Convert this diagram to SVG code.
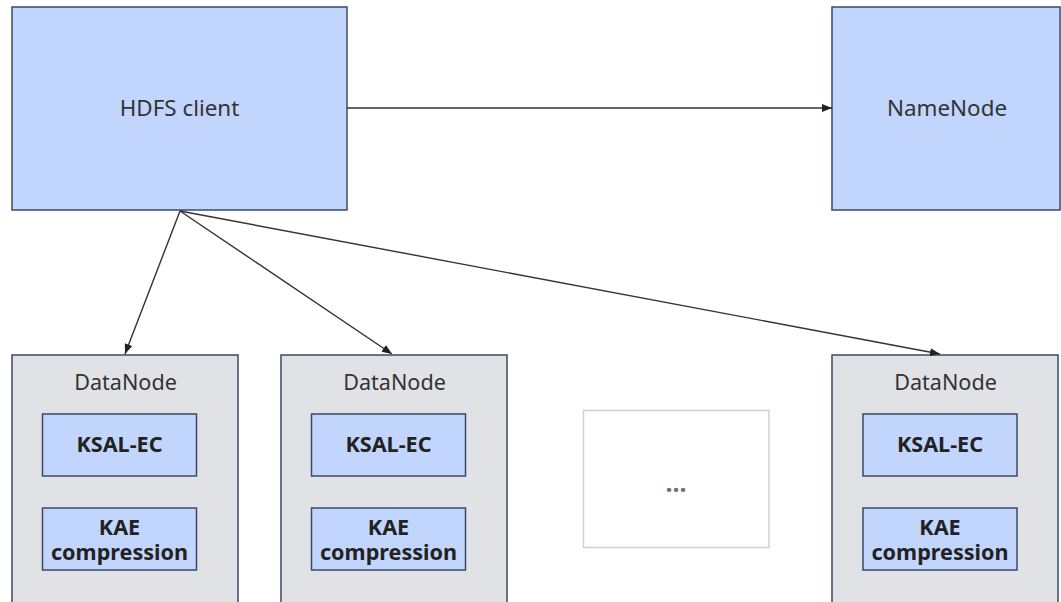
<svg xmlns="http://www.w3.org/2000/svg" width="1061" height="602" viewBox="0 0 1061 602">
  <style>
    .blue { fill: #c2d5fd; stroke: #3c4869; stroke-width: 1.5; }
    .gray { fill: #e1e2e6; stroke: #3c4869; stroke-width: 1.5; }
    .more { fill: #ffffff; stroke: #cfcfcf; stroke-width: 1.5; }
    .lbl { font-family: "Noto Sans", "Open Sans", sans-serif; font-size: 21.6px; fill: #333333; text-anchor: middle; }
    .big { font-size: 22.4px; }
    .bold { font-weight: bold; fill: #222222; }
    .edge { stroke: #333333; stroke-width: 1.4; fill: none; marker-end: url(#arrow); }
  </style>
  <defs>
    <marker id="arrow" viewBox="0 0 10 10" refX="10" refY="5" markerWidth="10" markerHeight="10" markerUnits="userSpaceOnUse" orient="auto">
      <path d="M0,1 L10,5 L0,9 Z" fill="#222222"/>
    </marker>
  </defs>
  <rect width="1061" height="602" fill="#ffffff"/>

  <g id="hdfs-client">
    <rect class="blue" x="12" y="7" width="335" height="203"/>
    <text class="lbl big" x="179.5" y="116">HDFS client</text>
  </g>

  <g id="namenode">
    <rect class="blue" x="832" y="7" width="228" height="203"/>
    <text class="lbl big" x="947" y="116">NameNode</text>
  </g>

  <g id="datanode-1">
    <rect class="gray" x="12" y="355" width="226" height="260"/>
    <text class="lbl" x="125.5" y="390">DataNode</text>
    <g id="ksal-ec-1">
      <rect class="blue" x="42.5" y="414" width="154" height="62"/>
      <text class="lbl bold" x="119.5" y="452">KSAL-EC</text>
    </g>
    <g id="kae-1">
      <rect class="blue" x="42.5" y="508" width="154" height="62"/>
      <text class="lbl bold"><tspan x="119.5" y="535">KAE</tspan><tspan x="119.5" y="560">compression</tspan></text>
    </g>
  </g>

  <g id="datanode-2">
    <rect class="gray" x="281" y="355" width="226" height="260"/>
    <text class="lbl" x="394.5" y="390">DataNode</text>
    <g id="ksal-ec-2">
      <rect class="blue" x="311.5" y="414" width="154" height="62"/>
      <text class="lbl bold" x="388.5" y="452">KSAL-EC</text>
    </g>
    <g id="kae-2">
      <rect class="blue" x="311.5" y="508" width="154" height="62"/>
      <text class="lbl bold"><tspan x="388.5" y="535">KAE</tspan><tspan x="388.5" y="560">compression</tspan></text>
    </g>
  </g>

  <g id="more-datanodes">
    <rect class="more" x="583.5" y="410.5" width="185.5" height="137"/>
    <text class="lbl bold" x="676" y="492" style="fill:#707070; font-size:25px">...</text>
  </g>

  <g id="datanode-n">
    <rect class="gray" x="832" y="355" width="226" height="260"/>
    <text class="lbl" x="945.5" y="390">DataNode</text>
    <g id="ksal-ec-n">
      <rect class="blue" x="863" y="414" width="154" height="62"/>
      <text class="lbl bold" x="940" y="452">KSAL-EC</text>
    </g>
    <g id="kae-n">
      <rect class="blue" x="863" y="508" width="154" height="62"/>
      <text class="lbl bold"><tspan x="940" y="535">KAE</tspan><tspan x="940" y="560">compression</tspan></text>
    </g>
  </g>

  <g id="connectors">
    <line class="edge" x1="347" y1="108" x2="832" y2="108"/>
    <line class="edge" x1="180" y1="211" x2="125" y2="354"/>
    <line class="edge" x1="180" y1="211" x2="392" y2="354"/>
    <line class="edge" x1="180" y1="211" x2="940" y2="354"/>
  </g>
</svg>
